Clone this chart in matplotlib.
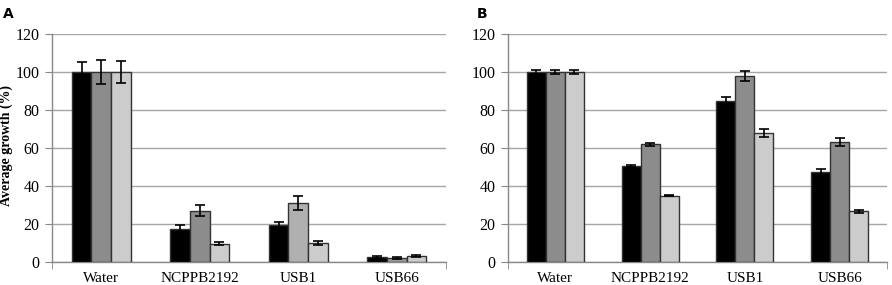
import numpy as np
import matplotlib.pyplot as plt

categories = ["Water", "NCPPB2192", "USB1", "USB66"]

# panel A
a_black = [100, 17.5, 19.5, 2.8]
a_black_err = [5.5, 1.8, 1.8, 0.5]
a_mid = [100, 27, 31, 2.2]
a_mid_err = [6.5, 3.0, 3.5, 0.6]
a_light = [100, 9.7, 10, 3.3]
a_light_err = [6.0, 0.8, 0.8, 0.5]
a_mid_colors = ["#8c8c8c", "#8c8c8c", "#b0b0b0", "#999999"]

# panel B
b_black = [100, 50.5, 85, 47.5]
b_black_err = [0.8, 0.5, 2.0, 1.5]
b_mid = [100, 62, 98, 63]
b_mid_err = [0.8, 0.8, 2.5, 2.2]
b_light = [100, 35, 68, 26.8]
b_light_err = [1.3, 0.4, 2.0, 0.8]
b_mid_colors = ["#8c8c8c"] * 4

plt.rcParams['font.family'] = ['Liberation Serif', 'DejaVu Serif']


def draw_panel(ax, series, mid_colors):
    x = np.arange(len(categories))
    w = 0.2
    colors = ["black", mid_colors, "#cccccc"]
    for i, (vals, errs) in enumerate(series):
        ax.bar(x + (i - 1) * w, vals, w, color=colors[i], edgecolor="#333333",
               linewidth=1.0, zorder=3,
               yerr=errs, capsize=3.5, error_kw=dict(ecolor="black", elinewidth=1.2, capthick=1.2, zorder=4))
    ax.set_xlim(-0.5, len(categories) - 0.5)
    ax.set_ylim(0, 120)
    ax.set_yticks(range(0, 121, 20))
    ax.set_xticks(x)
    ax.set_xticklabels(categories, fontsize=11)
    ax.tick_params(axis='x', length=0, pad=7)
    ax.set_xticks([-0.5, len(categories) - 0.5], minor=True)
    ax.tick_params(axis='x', which='minor', length=5, color="#888888", direction='out')
    ax.tick_params(axis='y', labelsize=11.5, length=5, color="#888888", direction='out', pad=4)
    ax.grid(axis='y', color="#a6a6a6", linewidth=1.0, zorder=0)
    for s in ['top', 'right']:
        ax.spines[s].set_visible(False)
    for s in ['left', 'bottom']:
        ax.spines[s].set_color("#888888")
        ax.spines[s].set_linewidth(1.0)


fig = plt.figure(figsize=(8.92, 2.85), dpi=100)
ax1 = fig.add_axes([0.0583, 0.0807, 0.4417, 0.80])
ax2 = fig.add_axes([0.5695, 0.0807, 0.4249, 0.80])

draw_panel(ax1, [(a_black, a_black_err), (a_mid, a_mid_err), (a_light, a_light_err)], a_mid_colors)
draw_panel(ax2, [(b_black, b_black_err), (b_mid, b_mid_err), (b_light, b_light_err)], b_mid_colors)

ax1.set_ylabel("Average growth (%)", fontsize=10, fontweight='bold')
ax1.yaxis.set_label_coords(-0.098, 0.51)

fig.text(0.003, 0.975, "A", fontsize=10, fontweight='bold', family='DejaVu Sans', va='top')
fig.text(0.535, 0.975, "B", fontsize=10, fontweight='bold', family='DejaVu Sans', va='top')

fig.savefig("out.png", dpi=100)
